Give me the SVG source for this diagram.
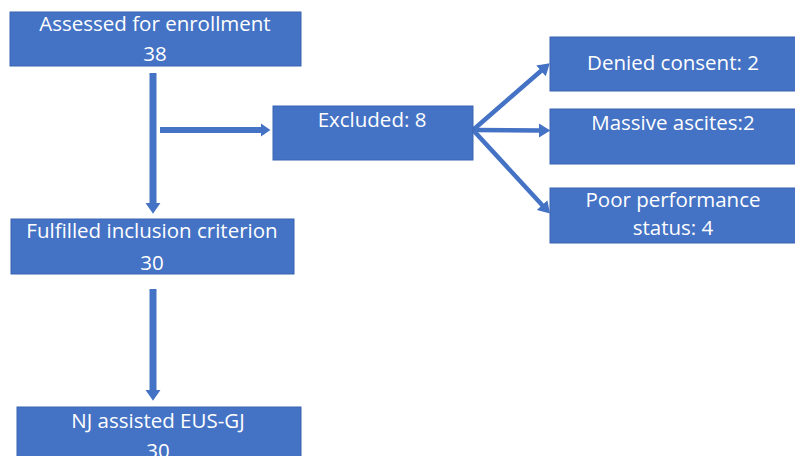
<svg xmlns="http://www.w3.org/2000/svg" width="795" height="456" viewBox="0 0 795 456">
<style>
.box{fill:#4472C4;stroke:#3A64B0;stroke-width:1}
.t{font-family:"Open Sans","Noto Sans",sans-serif;font-size:20.5px;fill:#fff;text-anchor:middle}
.c{stroke:#4472C4;fill:none}
</style>
<defs>
<marker id="ah" markerWidth="3" markerHeight="3" refX="0.2" refY="1.1" orient="auto" markerUnits="strokeWidth">
<path d="M0,0 L1.6,1.1 L0,2.2 Z" fill="#4472C4"/>
</marker>
<marker id="ah2" markerWidth="4" markerHeight="4" refX="0.3" refY="1.6" orient="auto" markerUnits="strokeWidth">
<path d="M0,0 L2.6,1.6 L0,3.2 Z" fill="#4472C4"/>
</marker>
</defs>
<g id="connectors">
<line class="c" x1="153" y1="73" x2="153" y2="204" stroke-width="7" marker-end="url(#ah)"/>
<line class="c" x1="160" y1="130" x2="262" y2="130" stroke-width="6" marker-end="url(#ah)"/>
<line class="c" x1="153" y1="289" x2="153" y2="391" stroke-width="7" marker-end="url(#ah)"/>
<line class="c" x1="473" y1="130" x2="542" y2="70" stroke-width="4.5" marker-end="url(#ah2)"/>
<line class="c" x1="473" y1="130" x2="540" y2="130.5" stroke-width="4.5" marker-end="url(#ah2)"/>
<line class="c" x1="473" y1="130" x2="543" y2="206" stroke-width="4.5" marker-end="url(#ah2)"/>
</g>
<g id="assessed">
<rect class="box" x="10" y="12" width="291" height="54"/>
<text class="t" x="155" y="31">Assessed for enrollment</text>
<text class="t" x="155" y="61">38</text>
</g>
<g id="excluded">
<rect class="box" x="273" y="106" width="200" height="54"/>
<text class="t" x="372" y="127">Excluded: 8</text>
</g>
<g id="denied">
<rect class="box" x="550" y="37" width="250" height="54"/>
<text class="t" x="673" y="70">Denied consent: 2</text>
</g>
<g id="ascites">
<rect class="box" x="550" y="109" width="250" height="55"/>
<text class="t" x="673" y="130">Massive ascites:2</text>
</g>
<g id="poor">
<rect class="box" x="550" y="188" width="250" height="55"/>
<text class="t" x="673" y="207">Poor performance</text>
<text class="t" x="673" y="235">status: 4</text>
</g>
<g id="fulfilled">
<rect class="box" x="11" y="219" width="283" height="55"/>
<text class="t" x="152" y="238">Fulfilled inclusion criterion</text>
<text class="t" x="152" y="270">30</text>
</g>
<g id="nj">
<rect class="box" x="17" y="407" width="284" height="60"/>
<text class="t" x="158" y="428">NJ assisted EUS-GJ</text>
<text class="t" x="158" y="458">30</text>
</g>
</svg>
